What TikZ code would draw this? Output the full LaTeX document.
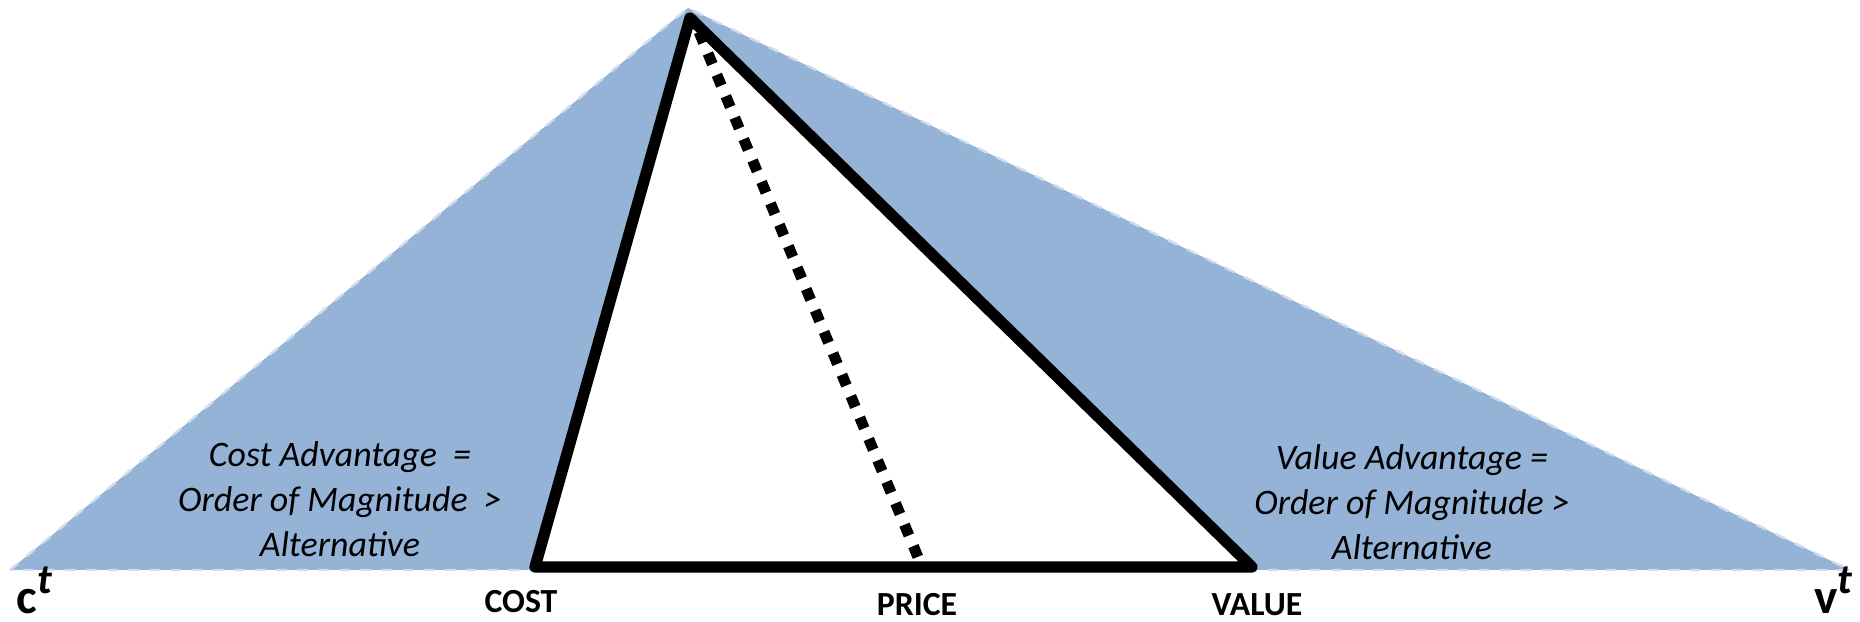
\documentclass[tikz,border=0pt]{standalone}
\usepackage{fontspec}
\setmainfont{Carlito}
\usepackage{tikz}
\usetikzlibrary{calc,positioning}
\definecolor{advblue}{RGB}{149,179,215}
\newcommand{\supt}{\raisebox{0.42em}{\fontsize{12}{12}\selectfont\itshape t}}
\tikzset{
    advantage/.style={fill=advblue, draw=advblue!45, dashed, line width=0.7pt},
    side/.style={draw, line width=3.2pt, line join=round},
    pricecut/.style={draw, line width=3.1pt, dash pattern=on 3.3pt off 3.3pt},
    axislbl/.style={font=\bfseries\fontsize{9.6}{10}\selectfont, inner sep=0pt, anchor=base},
    endlbl/.style={font=\bfseries\fontsize{14}{15}\selectfont, inner sep=0pt, anchor=base west},
    note/.style={font=\itshape\fontsize{10.2}{12.8}\selectfont, align=center, inner sep=0pt}
}
\begin{document}
\begin{tikzpicture}[x=0.01cm, y=-0.01cm]
    \useasboundingbox (0,0) rectangle (1860,622);
    % Corners
    \coordinate (ct) at (10,570);
    \coordinate (apex) at (688,8);
    \coordinate (vt) at (1850,570);
    \coordinate (top) at (690,18);
    \coordinate (cost) at (535,567);
    \coordinate (value) at (1252,567);
    \coordinate (tip) at (699,32);
    \coordinate (price) at (920,562);

    % shaded region
    \fill[advantage] (ct) -- (apex) -- (vt) -- cycle;
    \draw[side, fill=white] (top) -- (cost) -- (value) -- cycle;
    \draw[pricecut] (tip) -- (price);

    % labels
    \node[axislbl] (costlbl) at (521,613) {COST};
    \node[axislbl] (pricelbl) at (917,616) {PRICE};
    \node[axislbl] (valuelbl) at (1257,616) {VALUE};
    \node[endlbl] (ctlbl) at (16,614) {c\supt};
    \node[endlbl, anchor=base east] (vtlbl) at (1853,614) {v\supt};
    \node[note] (costadv) at (340,499) {Cost Advantage \ =\\Order of Magnitude \ >\\Alternative};
    \node[note] (valueadv) at (1412,502) {Value Advantage =\\Order of Magnitude >\\Alternative};
\end{tikzpicture}
\end{document}
